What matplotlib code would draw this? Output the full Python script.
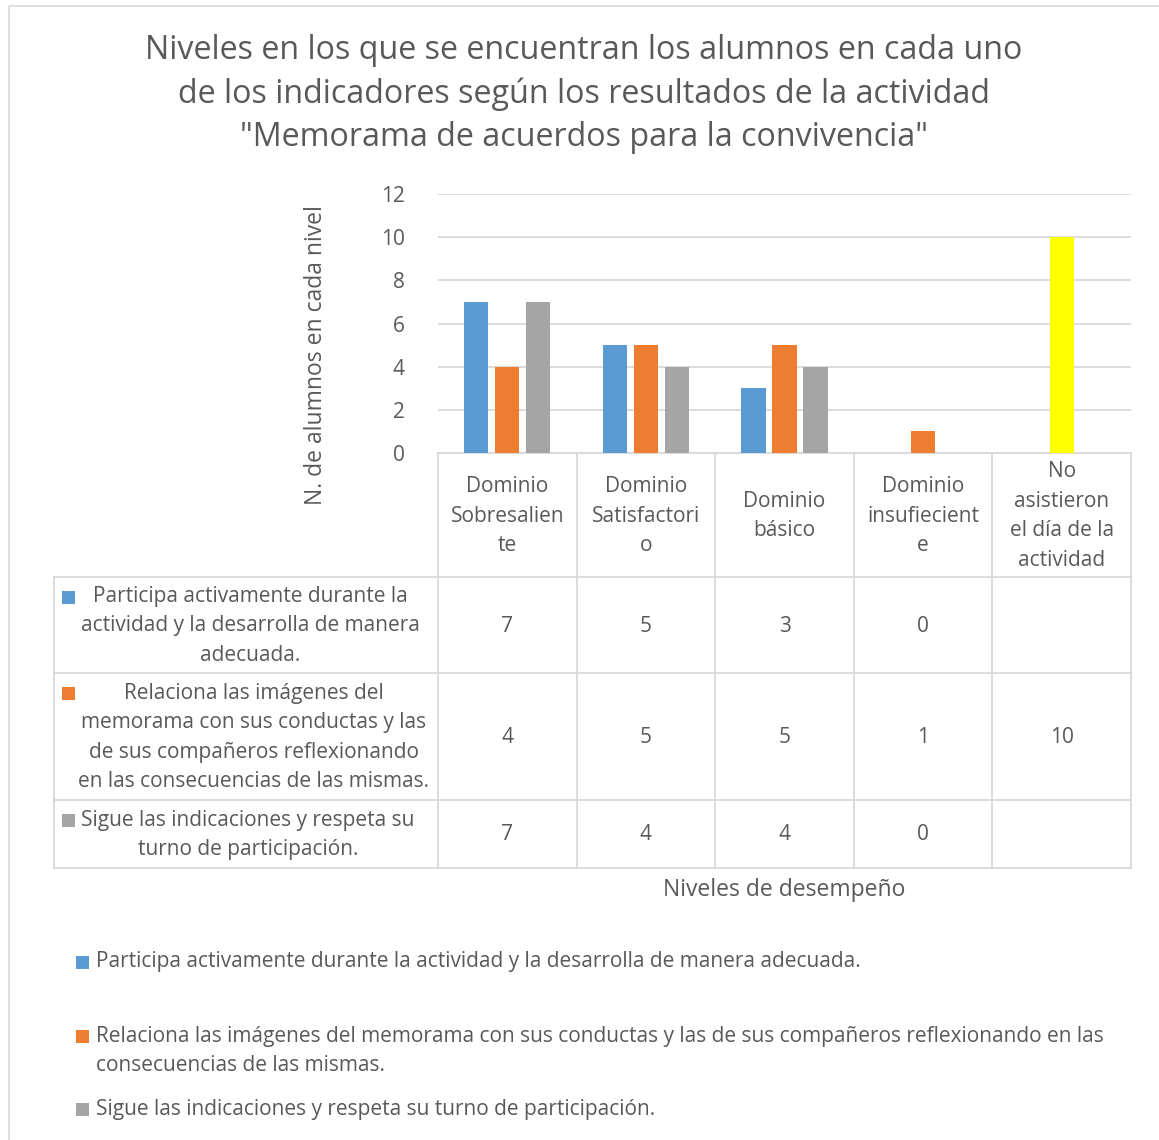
import numpy as np
import matplotlib
matplotlib.use("Agg")
from matplotlib import pyplot as plt
from matplotlib.patches import Rectangle

plt.rcParams['font.family'] = ['Open Sans', 'DejaVu Sans']

# data
categories = ["Dominio\nSobresalien\nte", "Dominio\nSatisfactori\no", "Dominio\nbásico",
              "Dominio\ninsufiecient\ne", "No\nasistieron\nel día de la\nactividad"]
row_labels = ["Participa activamente durante la\nactividad y la desarrolla de manera\nadecuada.",
              "Relaciona las imágenes del\nmemorama con sus conductas y las\nde sus compañeros reflexionando\nen las consecuencias de las mismas.",
              "Sigue las indicaciones y respeta su\nturno de participación."]
legend_labels = ["Participa activamente durante la actividad y la desarrolla de manera adecuada.",
                 "Relaciona las imágenes del memorama con sus conductas y las de sus compañeros reflexionando en las\nconsecuencias de las mismas.",
                 "Sigue las indicaciones y respeta su turno de participación."]
participa = [7, 5, 3, 0, None]
relaciona = [4, 5, 5, 1, 10]
sigue = [7, 4, 4, 0, None]
values = [participa, relaciona, sigue]
colors = ["#5B9BD5", "#ED7D31", "#A5A5A5"]
highlight = {(1, 4): "#FFFF00"}  # yellow point override

title = 'Niveles en los que se encuentran los alumnos en cada uno\nde los indicadores según los resultados de la actividad\n"Memorama de acuerdos para la convivencia"'
ylabel = "N. de alumnos en cada nivel"
xlabel = "Niveles de desempeño"

TXT = "#595959"
GRID = "#D9D9D9"
W, H = 1159, 1140

fig = plt.figure(figsize=(W / 100, H / 100), dpi=100)
cv = fig.add_axes([0, 0, 1, 1])
cv.set_xlim(0, W)
cv.set_ylim(H, 0)
cv.axis("off")

# chart border
cv.add_patch(Rectangle((8.5, 5.5), W, H, fill=False, ec=GRID, lw=1.2))

# plot area
px0, px1, py0, py1 = 438, 1131, 194, 453
ax = fig.add_axes([px0 / W, 1 - py1 / H, (px1 - px0) / W, (py1 - py0) / H])
ax.patch.set_alpha(0)
ncat = len(categories)
x = np.arange(ncat)
bw, step = 0.175, 0.224
for i, vals in enumerate(values):
    for j, v in enumerate(vals):
        if v is None:
            continue
        c = highlight.get((i, j), colors[i])
        ax.bar(x[j] + (i - 1) * step, v, width=bw, color=c, zorder=3)
ax.set_xlim(-0.5, ncat - 0.5)
ax.set_ylim(0, 12)
ax.set_yticks(range(0, 13, 2))
ax.yaxis.grid(True, color=GRID, lw=1.3)
ax.set_axisbelow(True)
for s in ax.spines.values():
    s.set_visible(False)
ax.tick_params(axis="y", length=0, pad=24, labelsize=15, labelcolor=TXT)
ax.set_xticks([])

# title and axis titles
cv.text(584, 94, title, ha="center", va="center", fontsize=23.2, color=TXT, linespacing=1.42)
cv.text(316, 355, ylabel, ha="center", va="center", rotation=90, fontsize=16.5, color=TXT)
cv.text((px0 + px1) / 2, 890, xlabel, ha="center", va="center", fontsize=16.5, color=TXT)

# data table
colw = (px1 - px0) / ncat
col_edges = [px0 + k * colw for k in range(ncat + 1)]
row_edges = [453, 577, 673, 800, 868]
tleft = 54
lw = 1.3
for xe in col_edges:
    cv.plot([xe, xe], [row_edges[0], row_edges[-1]], color=GRID, lw=lw)
cv.plot([px0, px1], [row_edges[0], row_edges[0]], color=GRID, lw=lw)
for ye in row_edges[1:]:
    cv.plot([tleft, px1], [ye, ye], color=GRID, lw=lw)
cv.plot([tleft, tleft], [row_edges[1], row_edges[-1]], color=GRID, lw=lw)

fs = 15
ls = 1.53
lh = 29.5
for j, lab in enumerate(categories):
    cv.text((col_edges[j] + col_edges[j + 1]) / 2, (row_edges[0] + row_edges[1]) / 2 + 1, lab,
            ha="center", va="center", fontsize=fs, color=TXT, linespacing=ls)
row_cx = [250, 254, 248]
for i, vals in enumerate(values):
    yc = (row_edges[i + 1] + row_edges[i + 2]) / 2
    for j, v in enumerate(vals):
        if v is None:
            continue
        cv.text((col_edges[j] + col_edges[j + 1]) / 2, yc + 1, str(v),
                ha="center", va="center", fontsize=fs, color=TXT)
    cv.text(row_cx[i], yc + 1, row_labels[i], ha="center", va="center", fontsize=fs,
            color=TXT, linespacing=ls)
    nlines = row_labels[i].count("\n") + 1
    yfirst = yc + 1 - (nlines - 1) * lh / 2
    cv.add_patch(Rectangle((62, yfirst - 6), 13, 13, color=colors[i], lw=0))

# legend
leg_y = [962, 1036, 1109]
for i, lab in enumerate(legend_labels):
    cv.add_patch(Rectangle((76, leg_y[i] - 6), 13, 13, color=colors[i], lw=0))
    nlines = lab.count("\n") + 1
    cv.text(96, leg_y[i] + (nlines - 1) * lh / 2, lab, ha="left", va="center",
            fontsize=fs, color=TXT, linespacing=ls)

fig.savefig("out.png", dpi=100)
